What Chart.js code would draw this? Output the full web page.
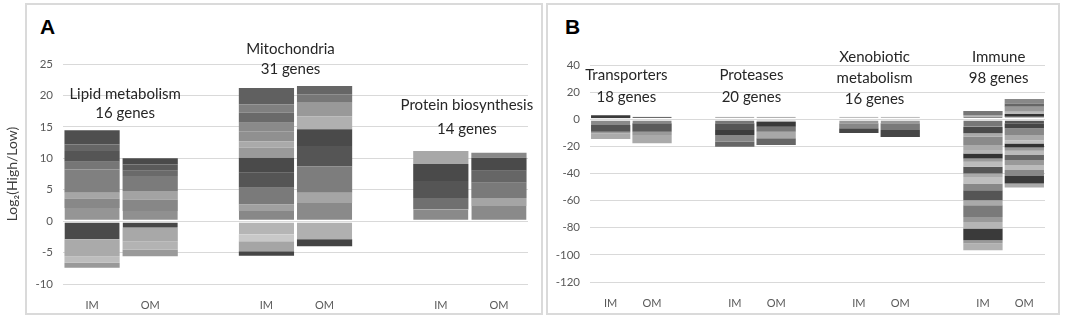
<!DOCTYPE html>
<html>
<head>
<meta charset="utf-8">
<script src="https://cdn.jsdelivr.net/npm/chart.js@4.4.1/dist/chart.umd.min.js"></script>
<style>
  body { margin:0; background:#fff; width:1065px; height:321px; overflow:hidden; position:relative; }
  .box { position:absolute; top:3px; height:312px; border:2px solid #dadada; box-sizing:border-box; }
  #boxA { left:25px; width:518px; }
  #boxB { left:546px; width:514px; }
  .tag { position:absolute; top:15px; line-height:21px; font:bold 21px "Liberation Sans", Arial, sans-serif; color:#000; }
  canvas { position:absolute; top:0; }
</style>
</head>
<body>
<div class="box" id="boxA"></div>
<div class="box" id="boxB"></div>
<div class="tag" style="left:40px">A</div>
<div class="tag" style="left:565px">B</div>
<canvas id="chartA" width="545" height="321" style="left:0"></canvas>
<canvas id="chartB" width="520" height="321" style="left:545px"></canvas>
<script>
// categories / ticks
const labelsA = ['IM', 'OM', '', 'IM', 'OM', '', 'IM', 'OM'];
const labelsB = ['IM', 'OM', '', 'IM', 'OM', '', 'IM', 'OM', '', 'IM', 'OM'];
const ticksA = [25, 20, 15, 10, 5, 0, -5, -10];
const ticksB = [40, 20, 0, -20, -40, -60, -80, -100, -120];

const groupsA = [['Lipid metabolism', '16 genes'], ['Mitochondria', '31 genes'], ['Protein biosynthesis', '14 genes']];
const groupsB = [['Transporters', '18 genes'], ['Proteases', '20 genes'], ['Xenobiotic', 'metabolism', '16 genes'], ['Immune', '98 genes']];

// gene blocks, log2 values stacked outward from zero
// panel A
const lipidImUp = [2.1, 1.5, 0.9, 3.7, 1.25, 1.7, 1.05, 2.25];
const lipidImDown = [-2.9, -2.7, -1.0, -0.8];
const lipidOmUp = [1.6, 1.85, 1.35, 2.4, 0.8, 1.0, 1.0];
const lipidOmDown = [-1.05, -2.15, -1.3, -1.1];
const mitoImUp = [1.6, 1.05, 2.65, 2.4, 2.4, 1.6, 1.0, 1.6, 1.35, 1.6, 1.35, 2.6];
const mitoImDown = [-2.1, -1.1, -1.6, -0.7];
const mitoOmUp = [2.9, 1.6, 4.25, 3.2, 2.65, 2.1, 2.15, 1.35, 1.3];
const mitoOmDown = [-2.9, -1.1];
const protImUp = [1.85, 1.85, 2.7, 2.7, 2.05];
const protOmUp = [2.4, 1.3, 2.4, 1.9, 2.1, 0.8];

// panel B
const transImUp = [1.0, 2.0];
const transImDown = [-4.3, -4.9, -1.2, -4.2];
const transOmUp = [1.8];
const transOmDown = [-3.0, -6.2, -2.5, -6.0];
const proteaseImUp = [1.8];
const proteaseImDown = [-3.0, -5.0, -3.7, -4.9, -3.7];
const proteaseOmUp = [1.8];
const proteaseOmDown = [-1.8, -3.7, -3.7, -4.9, -4.9];
const xenoImUp = [1.8];
const xenoImDown = [-3.0, -3.7, -3.5];
const xenoOmUp = [1.8];
const xenoOmDown = [-3.0, -5.0, -5.0];
const immuneImUp = [1.8, 1.3, 3.0];
const immuneImDown = [-5.5, -4.9, -2.5, -6.1, -3.7, -2.5, -3.7, -2.5, -3.7, -4.9, -2.5, -4.8, -5.0, -7.4, -3.7, -8.6, -3.7, -4.9, -8.6, -2.5, -4.9];
const immuneOmUp = [1.8, 2.0, 1.7, 3.7, 2.5, 3.2];
const immuneOmDown = [-3.0, -3.7, -5.0, -3.7, -2.4, -3.0, -2.5, -3.1, -3.7, -3.7, -3.7, -4.4, -5.4, -3.0];

// grey shade of each block (same order as the values)
const lipidImUpShade = ['#959595', '#888888', '#a6a6a6', '#808080', '#767676', '#555555', '#666666', '#4f4f4f'];
const lipidImDownShade = ['#4a4a4a', '#aaaaaa', '#bdbdbd', '#999999'];
const lipidOmUpShade = ['#909090', '#878787', '#a3a3a3', '#7b7b7b', '#6a6a6a', '#5a5a5a', '#4a4a4a'];
const lipidOmDownShade = ['#474747', '#a8a8a8', '#b3b3b3', '#9a9a9a'];
const mitoImUpShade = ['#888888', '#a0a0a0', '#7a7a7a', '#555555', '#4a4a4a', '#9a9a9a', '#aaaaaa', '#909090', '#8a8a8a', '#6a6a6a', '#808080', '#606060'];
const mitoImDownShade = ['#b5b5b5', '#c8c8c8', '#a5a5a5', '#454545'];
const mitoOmUpShade = ['#8a8a8a', '#a5a5a5', '#7d7d7d', '#555555', '#4a4a4a', '#b0b0b0', '#999999', '#777777', '#666666'];
const mitoOmDownShade = ['#b0b0b0', '#444444'];
const protImUpShade = ['#8a8a8a', '#707070', '#555555', '#4a4a4a', '#a8a8a8'];
const protOmUpShade = ['#8a8a8a', '#a5a5a5', '#7a7a7a', '#666666', '#4a4a4a', '#888888'];

const transImUpShade = ['#999999', '#3a3a3a'];
const transImDownShade = ['#8a8a8a', '#555555', '#9a9a9a', '#ababab'];
const transOmUpShade = ['#3a3a3a'];
const transOmDownShade = ['#888888', '#5a5a5a', '#9a9a9a', '#aaaaaa'];
const proteaseImUpShade = ['#9a9a9a'];
const proteaseImDownShade = ['#777777', '#555555', '#3d3d3d', '#888888', '#666666'];
const proteaseOmUpShade = ['#999999'];
const proteaseOmDownShade = ['#888888', '#3a3a3a', '#777777', '#a8a8a8', '#666666'];
const xenoImUpShade = ['#aaaaaa'];
const xenoImDownShade = ['#999999', '#878787', '#464646'];
const xenoOmUpShade = ['#aaaaaa'];
const xenoOmDownShade = ['#999999', '#7a7a7a', '#464646'];
const immuneImUpShade = ['#666666', '#aaaaaa', '#777777'];
const immuneImDownShade = ['#777777', '#4a4a4a', '#aaaaaa', '#8a8a8a', '#aaaaaa', '#b5b5b5', '#333333', '#999999', '#bbbbbb', '#555555', '#aaaaaa', '#c0c0c0', '#888888', '#555555', '#aaaaaa', '#7a7a7a', '#999999', '#b5b5b5', '#3a3a3a', '#999999', '#b0b0b0'];
const immuneOmUpShade = ['#aaaaaa', '#333333', '#bbbbbb', '#999999', '#666666', '#888888'];
const immuneOmDownShade = ['#555555', '#444444', '#888888', '#aaaaaa', '#c0c0c0', '#333333', '#999999', '#bbbbbb', '#666666', '#999999', '#bbbbbb', '#888888', '#3a3a3a', '#aaaaaa'];

// where the group titles sit (IM slot, y value of each line, sideways nudge)
const titleSlotA = [0, 3, 6];
const titleYA = [[20.2, 17.2], [27.4, 24.2], [18.4, 14.6]];
const titleNudgeA = [4, -5, -3];
const titleSlotB = [0, 3, 6, 9];
const titleYB = [[32.6, 16.4], [32.6, 16.4], [45.9, 30.4, 14.9], [45.9, 30.4]];
const titleNudgeB = [-5, -4, -5, -5];

// one dataset per stacking level; the level touching zero gets a thin white edge there
function buildSets(ups, upShades, downs, downShades) {
    const sets = [];
    const addLevels = (blocks, shades, zeroEdge) => {
        const n = Math.max(...blocks.map(b => b ? b.length : 0));
        for (let k = 0; k < n; k++) {
            sets.push({
                data: blocks.map(b => (b && b[k] !== undefined) ? b[k] : null),
                backgroundColor: shades.map(s => (s && s[k]) ? s[k] : '#999999'),
                borderColor: '#ffffff',
                borderSkipped: false,
                borderWidth: k === 0 ? zeroEdge : 0,
                stack: 'genes'
            });
        }
    };
    addLevels(ups, upShades, { top: 0, left: 0, right: 0, bottom: 1 });
    addLevels(downs, downShades, { top: 1, left: 0, right: 0, bottom: 0 });
    return sets;
}

function groupTitles(groups, slots, ys, nudges) {
    return {
        id: 'groupTitles',
        afterDraw(chart) {
            const ctx = chart.ctx;
            const xs = chart.scales.x, yscale = chart.scales.y;
            ctx.save();
            ctx.font = '15px Lato';
            ctx.fillStyle = '#262626';
            ctx.textAlign = 'center';
            ctx.textBaseline = 'middle';
            groups.forEach((lines, i) => {
                const cx = (xs.getPixelForValue(slots[i]) + xs.getPixelForValue(slots[i] + 1)) / 2 + nudges[i];
                lines.forEach((t, j) => ctx.fillText(t, cx, yscale.getPixelForValue(ys[i][j])));
            });
            ctx.restore();
        }
    };
}

function makeChart(id, labels, sets, ticks, pad, yWidth, barPct, plugin, withTitle) {
    return new Chart(document.getElementById(id), {
        type: 'bar',
        data: { labels: labels, datasets: sets },
        options: {
            responsive: false,
            animation: false,
            layout: { padding: pad },
            datasets: { bar: { barPercentage: barPct, categoryPercentage: 1 } },
            plugins: { legend: { display: false }, tooltip: { enabled: false } },
            scales: {
                x: {
                    stacked: true,
                    grid: { display: false },
                    border: { display: false },
                    ticks: { color: '#595959', font: { family: 'Lato', size: 11 }, padding: 7, maxRotation: 0, autoSkip: false },
                    afterFit: s => { s.height = 37; }
                },
                y: {
                    stacked: true,
                    min: ticks[ticks.length - 1],
                    max: ticks[0],
                    afterBuildTicks: s => { s.ticks = ticks.map(v => ({ value: v })); },
                    afterFit: s => { s.width = yWidth; },
                    grid: { color: '#d9d9d9', lineWidth: 1, drawTicks: false },
                    border: { display: false },
                    ticks: { color: '#595959', font: { family: 'Lato', size: 11.5 }, padding: 10 },
                    title: {
                        display: withTitle,
                        text: 'Log\u2082(High/Low)',
                        color: '#404040',
                        font: { family: 'Lato', size: 14 },
                        padding: 0
                    }
                }
            }
        },
        plugins: [plugin]
    });
}

const setsA = buildSets(
    [lipidImUp, lipidOmUp, null, mitoImUp, mitoOmUp, null, protImUp, protOmUp],
    [lipidImUpShade, lipidOmUpShade, null, mitoImUpShade, mitoOmUpShade, null, protImUpShade, protOmUpShade],
    [lipidImDown, lipidOmDown, null, mitoImDown, mitoOmDown, null, null, null],
    [lipidImDownShade, lipidOmDownShade, null, mitoImDownShade, mitoOmDownShade, null, null, null]
);

const setsB = buildSets(
    [transImUp, transOmUp, null, proteaseImUp, proteaseOmUp, null, xenoImUp, xenoOmUp, null, immuneImUp, immuneOmUp],
    [transImUpShade, transOmUpShade, null, proteaseImUpShade, proteaseOmUpShade, null, xenoImUpShade, xenoOmUpShade, null, immuneImUpShade, immuneOmUpShade],
    [transImDown, transOmDown, null, proteaseImDown, proteaseOmDown, null, xenoImDown, xenoOmDown, null, immuneImDown, immuneOmDown],
    [transImDownShade, transOmDownShade, null, proteaseImDownShade, proteaseOmDownShade, null, xenoImDownShade, xenoOmDownShade, null, immuneImDownShade, immuneOmDownShade]
);

makeChart('chartA', labelsA, setsA, ticksA, { left: 4, top: 64, right: 17, bottom: 0 }, 59, 0.95,
    groupTitles(groupsA, titleSlotA, titleYA, titleNudgeA), true);
makeChart('chartB', labelsB, setsB, ticksB, { left: 0, top: 65, right: 20, bottom: 2 }, 45, 0.95,
    groupTitles(groupsB, titleSlotB, titleYB, titleNudgeB), false);
</script>
</body>
</html>
